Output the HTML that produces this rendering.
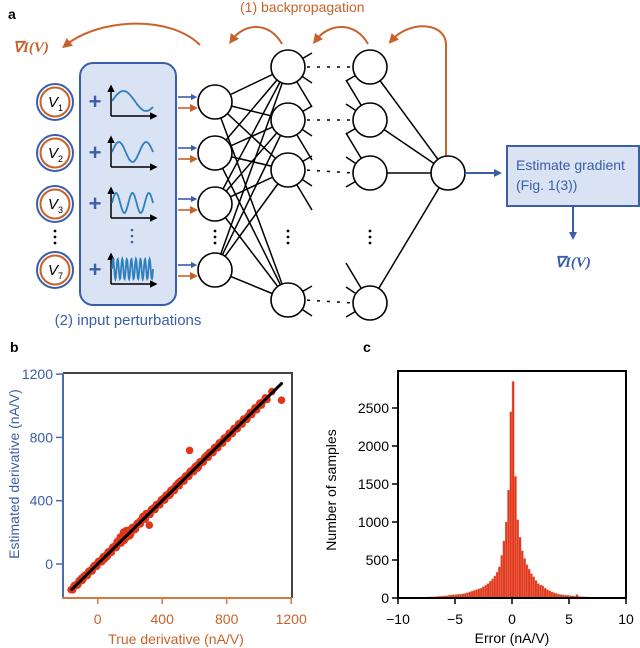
<!DOCTYPE html>
<html><head><meta charset="utf-8"><style>
html,body{margin:0;padding:0;background:#fff;}
svg{display:block;font-family:"Liberation Sans",sans-serif;}
</style></head><body>
<svg id="fig" width="640" height="648" viewBox="0 0 640 648" xmlns="http://www.w3.org/2000/svg">
<defs>
<marker id="ao" viewBox="0 0 10 10" refX="5" refY="5" markerWidth="5" markerHeight="5" orient="auto"><path d="M0,0L10,5L0,10z" fill="#c8622a"/></marker>
<marker id="ab" viewBox="0 0 10 10" refX="5" refY="5" markerWidth="4" markerHeight="4" orient="auto"><path d="M0,0L10,5L0,10z" fill="#3a5ea8"/></marker>
<marker id="ak" viewBox="0 0 10 10" refX="8" refY="5" markerWidth="5" markerHeight="5" orient="auto"><path d="M0,0L10,5L0,10z" fill="#000"/></marker>
</defs>
<g id="panelA">
<text x="8" y="19" font-weight="bold" font-size="14">a</text>
<text x="240" y="12" font-size="14" fill="#c8622a">(1) backpropagation</text>
<text x="13" y="52" font-size="15" fill="#c8622a" font-family="Liberation Serif,serif" font-weight="bold" font-style="italic">∇I(V)</text>
<path d="M200,45 C170,15 100,18 66,45" fill="none" stroke="#c8622a" stroke-width="2" marker-end="url(#ao)"/>
<path d="M282,44 C270,22 245,22 232,40" fill="none" stroke="#c8622a" stroke-width="2" marker-end="url(#ao)"/>
<path d="M368,44 C356,22 330,22 316,40" fill="none" stroke="#c8622a" stroke-width="2" marker-end="url(#ao)"/>
<path d="M446,156 L446,45 C446,22 410,20 392,40" fill="none" stroke="#c8622a" stroke-width="2" marker-end="url(#ao)"/>
<rect x="80" y="63" width="96" height="242" rx="13" fill="#dae3f3" stroke="#3a5ea8" stroke-width="2"/>
<text x="128" y="325" text-anchor="middle" font-size="15" fill="#3a5ea8">(2) input perturbations</text>
<g id="net"></g>
<rect x="507" y="146" width="132" height="60" fill="#dae3f3" stroke="#3a5ea8" stroke-width="2"/>
<text x="516" y="170" font-size="14" fill="#3a5ea8">Estimate gradient</text>
<text x="516" y="190" font-size="14" fill="#3a5ea8">(Fig. 1(3))</text>
<line x1="465" y1="173" x2="498" y2="173" stroke="#3a5ea8" stroke-width="2" marker-end="url(#ab)"/>
<line x1="573" y1="206" x2="573" y2="236" stroke="#3a5ea8" stroke-width="2" marker-end="url(#ab)"/>
<text x="555" y="267" font-size="15" fill="#3a5ea8" font-family="Liberation Serif,serif" font-weight="bold" font-style="italic">∇I(V)</text>
</g>
<g id="panelB"></g>
<g id="panelC"></g>
</svg>
<script>
const NS="http://www.w3.org/2000/svg";
function mk(parent,tag,attrs,txt){const e=document.createElementNS(NS,tag);for(const k in attrs)e.setAttribute(k,attrs[k]);if(txt!==undefined)e.textContent=txt;parent.appendChild(e);return e;}

// ---------- Panel a network ----------
const net=document.getElementById('net');
const inY=[102,153,204,270];
const l2Y=[67,120,170,300];
const l3Y=[67,120,173,303];
const R=17;
inY.forEach(a=>l2Y.forEach(b=>{const l=mk(net,'line',{x1:215,y1:a,x2:288,y2:b,stroke:'#000','stroke-width':1.5});

}));
l2Y.forEach(a=>[[312,a-14],[312,a+16],[312,a+40]].forEach(p=>{if(p[1]<320){const l=mk(net,'line',{x1:288,y1:a,x2:p[0],y2:p[1],stroke:'#000','stroke-width':1.5});

}}));
l3Y.forEach(a=>[[346,a+14],[346,a-16],[346,a-40]].forEach(p=>{if(p[1]>55){const l=mk(net,'line',{x1:370,y1:a,x2:p[0],y2:p[1],stroke:'#000','stroke-width':1.5});

}}));
l3Y.forEach(a=>{const l=mk(net,'line',{x1:370,y1:a,x2:448,y2:173,stroke:'#000','stroke-width':1.5});

});
l2Y.forEach((a,i)=>{const l=mk(net,'line',{x1:305,y1:a,x2:353,y2:l3Y[i],stroke:'#000','stroke-width':1.5,'stroke-dasharray':'3 7','stroke-dashoffset':'-2'});

});
function node(x,y,name){const c=mk(net,'circle',{cx:x,cy:y,r:R,fill:'#fff',stroke:'#000','stroke-width':1.6});

}
inY.forEach(y=>node(215,y,'layer1-node'));
l2Y.forEach(y=>node(288,y,'layer2-node'));
l3Y.forEach(y=>node(370,y,'layer3-node'));
node(448,173,'output-node');
function vdots(x,y){[0,6,12].forEach(d=>{const c=mk(net,'circle',{cx:x,cy:y+d,r:1.4,fill:'#000'});

});}
vdots(215,231);vdots(288,231);vdots(370,231);vdots(55,231);
[0,6,12].forEach(d=>{const c=mk(net,'circle',{cx:132,cy:230+d,r:1.3,fill:'#3a5ea8'});

});
const subs=['1','2','3','7'];
const freqs=[0.9,1.5,2.5,9];
inY.forEach((y,i)=>{
 const g=mk(net,'g',{});
 
 
 mk(g,'circle',{cx:55,cy:y,r:18,fill:'#fff',stroke:'#3a5ea8','stroke-width':2});
 mk(g,'circle',{cx:55,cy:y,r:14.5,fill:'#fff',stroke:'#c8622a','stroke-width':2});
 mk(g,'text',{x:48,y:y+5,'font-size':15,'font-style':'italic'},'V');
 mk(g,'text',{x:58,y:y+9,'font-size':9},subs[i]);
 mk(g,'text',{x:95,y:y+7,'font-size':22,'font-weight':'bold',fill:'#3a5ea8','text-anchor':'middle'},'+');
 mk(g,'line',{x1:111,y1:y+14,x2:111,y2:y-16,stroke:'#000','stroke-width':1.5,'marker-end':'url(#ak)'});
 mk(g,'line',{x1:111,y1:y+14,x2:156,y2:y+14,stroke:'#000','stroke-width':1.5,'marker-end':'url(#ak)'});
 let d='';for(let k=0;k<=120;k++){const xx=112+k*41/120;const yy=y-1-10*Math.sin(2*Math.PI*freqs[i]*k/120);d+=(k?'L':'M')+xx.toFixed(1)+','+yy.toFixed(1);}
 mk(g,'path',{d:d,fill:'none',stroke:'#2f7fbf','stroke-width':1.8});
 mk(g,'line',{x1:178,y1:y-5,x2:194,y2:y-5,stroke:'#3a5ea8','stroke-width':1.6,'marker-end':'url(#ab)'});
 mk(g,'line',{x1:178,y1:y+6,x2:194,y2:y+6,stroke:'#c8622a','stroke-width':1.6,'marker-end':'url(#ao)'});
});

// ---------- Panel b scatter ----------
const trueDeriv=[-165,-150,-140,-130,-120,-110,-100,-90,-80,-70,-60,-50,-40,-30,-20,-10,0,10,20,30,40,50,60,70,80,90,100,110,120,130,140,150,160,170,180,190,200,210,220,230,240,250,260,270,280,290,300,310,320,330,340,350,360,370,380,390,400,410,420,430,440,450,460,470,480,490,500,510,520,530,540,550,560,570,580,590,600,620,640,660,680,700,720,740,760,780,800,820,840,860,880,900,930,960,990,1020,1080,1140,570,320,160,175,150,280,190,120,60,-20,230,300,450,500,620,680,140,200,-100,40,
-155,-125,-95,-65,-35,-5,25,55,85,115,145,165,185,205,235,265,295,325,355,385,415,445,475,505,535,565,595,625,655,685,715,745,775,805,835,865,895,925,955,985,1015,1050,
-145,-115,-85,-55,-25,5,35,65,95,125,155,175,195,215,245,275,305,335,365,395,425,455,485,515,545,575,605,635,665,695,725,755,785,815,845,875,905,945,975,1005,1040];
const estDeriv=[-162,-148,-136,-128,-122,-104,-96,-92,-74,-66,-62,-44,-38,-26,-18,-4,4,14,18,36,42,54,58,76,84,96,108,116,128,140,152,164,180,192,196,198,206,214,222,236,244,252,268,274,286,294,306,312,322,336,344,356,362,376,382,394,404,416,420,436,442,456,462,476,482,496,502,516,522,536,542,556,562,576,582,596,602,626,642,664,682,704,722,744,762,784,802,822,844,862,884,904,932,962,992,1022,1090,1035,718,245,200,210,172,300,212,140,50,-10,218,318,440,512,606,690,170,180,-90,30,
-163,-133,-103,-73,-45,-14,14,44,74,104,132,150,172,190,222,254,284,314,344,374,404,434,464,494,524,554,584,614,644,674,704,734,764,794,824,854,884,914,944,974,1004,1040,
-136,-106,-76,-46,-16,16,46,76,108,138,172,195,214,230,256,286,316,346,376,406,436,466,496,526,556,586,616,646,676,706,736,766,796,826,856,886,916,956,986,1016,1050];
const lineX=[-160,1140];
const lineY=[-160,1140];
const bTicks=[0,400,800,1200];
const pb=document.getElementById('panelB');
const bx=v=>97.7+v*(64.5/400);
const by=v=>564-v*(63.3/400);
mk(pb,'text',{x:10,y:352,'font-weight':'bold','font-size':14},'b');
const pts=mk(pb,'g',{fill:'#e0361c'});


trueDeriv.forEach((t,i)=>{const c=mk(pts,'circle',{cx:bx(t),cy:by(estDeriv[i]),r:3.8});

});
const fit=mk(pb,'line',{x1:bx(lineX[0]),y1:by(lineY[0]),x2:bx(lineX[1]),y2:by(lineY[1]),stroke:'#000','stroke-width':3,'stroke-linecap':'round'});


const fr=mk(pb,'path',{d:'M63,373H292V598',fill:'none',stroke:'#444','stroke-width':2});


const ya=mk(pb,'line',{x1:63,y1:373,x2:63,y2:598,stroke:'#4a6cb0','stroke-width':2});


const xa=mk(pb,'line',{x1:62,y1:598,x2:292,y2:598,stroke:'#d07a40','stroke-width':2});


bTicks.forEach(v=>{
 const t1=mk(pb,'line',{x1:bx(v),y1:598,x2:bx(v),y2:604,stroke:'#d07a40','stroke-width':1.5});
 
 
 const l1=mk(pb,'text',{x:bx(v),y:624,'text-anchor':'middle','font-size':14,fill:'#c8622a'},String(v));
 
 
 const t2=mk(pb,'line',{x1:56,y1:by(v),x2:63,y2:by(v),stroke:'#4a6cb0','stroke-width':1.5});
 
 
 const l2=mk(pb,'text',{x:53,y:by(v)+5,'text-anchor':'end','font-size':14,fill:'#3a5ea8'},String(v));
 
 
});
const xt=mk(pb,'text',{x:176,y:644,'text-anchor':'middle','font-size':14,fill:'#c8622a'},'True derivative (nA/V)');


const yt=mk(pb,'text',{x:0,y:0,'text-anchor':'middle','font-size':14,fill:'#3a5ea8',transform:'translate(19,474) rotate(-90)'},'Estimated derivative (nA/V)');



// ---------- Panel c histogram ----------
const binStart=-10, binWidth=0.2;
const counts=[5,5,8,5,6,8,5,8,10,8,
10,12,10,12,15,15,18,20,22,25,
30,28,35,40,45,42,48,50,55,60,
70,80,90,100,110,120,130,150,170,190,
220,250,290,340,410,560,750,1000,1420,2450,
2850,1600,1030,800,620,520,440,380,320,280,
230,190,170,160,130,110,95,80,70,60,
50,45,40,38,35,30,28,25,45,20,
18,15,14,12,10,10,8,8,6,6,
5,5,5,4,4,8,4,3,3,3];
const cxTicks=[-10,-5,0,5,10];
const cyTicks=[0,500,1000,1500,2000,2500];
const pc=document.getElementById('panelC');
const cx=v=>512+v*11.4;
const cy=v=>598-v*0.076;
mk(pc,'text',{x:363,y:352,'font-weight':'bold','font-size':14},'c');
const bars=mk(pc,'g',{fill:'#e0361c',stroke:'#f08a70','stroke-width':0.4});


counts.forEach((c,i)=>{const x0=cx(binStart+i*binWidth),x1=cx(binStart+(i+1)*binWidth);
 const r=mk(bars,'rect',{x:x0,y:cy(c),width:x1-x0,height:cy(0)-cy(c)});
 
 });
const cf=mk(pc,'rect',{x:398,y:371,width:228,height:227,fill:'none',stroke:'#000','stroke-width':2});


cxTicks.forEach(v=>{
 const t=mk(pc,'line',{x1:cx(v),y1:598,x2:cx(v),y2:604,stroke:'#000','stroke-width':1.5});
 
 
 const l=mk(pc,'text',{x:cx(v),y:624,'text-anchor':'middle','font-size':14},(v<0?'−':'')+Math.abs(v));
 
 
});
cyTicks.forEach(v=>{
 const t=mk(pc,'line',{x1:392,y1:cy(v),x2:398,y2:cy(v),stroke:'#000','stroke-width':1.5});
 
 
 const l=mk(pc,'text',{x:389,y:cy(v)+5,'text-anchor':'end','font-size':14},String(v));
 
 
});
const cxt=mk(pc,'text',{x:512,y:643,'text-anchor':'middle','font-size':14},'Error (nA/V)');


const cyt=mk(pc,'text',{x:0,y:0,'text-anchor':'middle','font-size':14,transform:'translate(336,490) rotate(-90)'},'Number of samples');


</script>
</body></html>
